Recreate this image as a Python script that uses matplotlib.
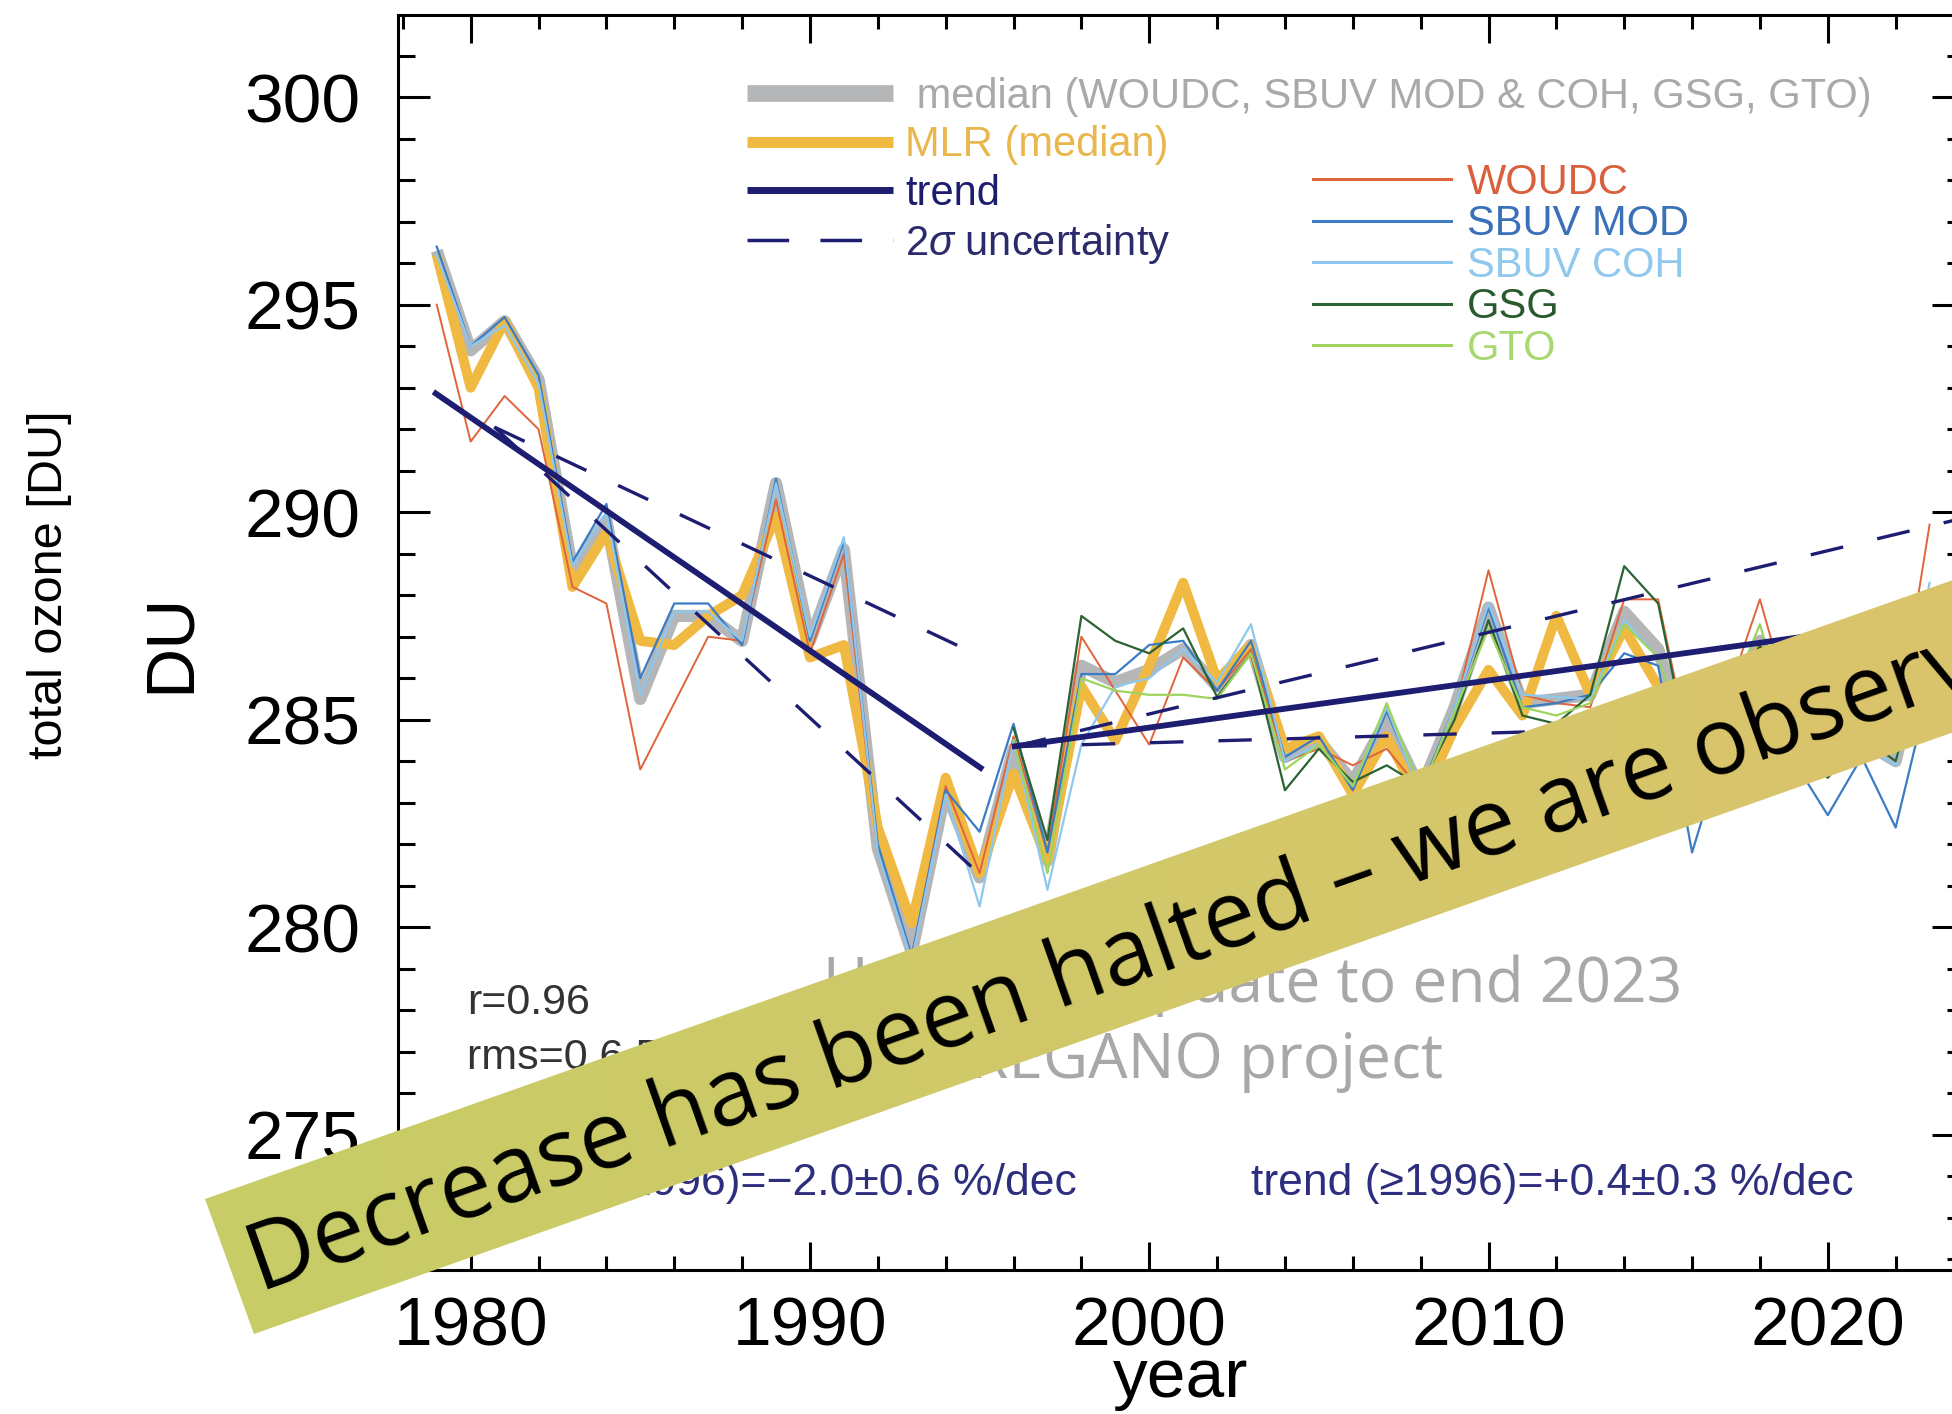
import numpy as np
import matplotlib
matplotlib.use("Agg")
import matplotlib.pyplot as plt
from matplotlib.lines import Line2D
from matplotlib.patches import Polygon
from matplotlib.ticker import MultipleLocator

# ---------------- data ----------------
years = np.arange(1979, 2024)
years_sat = np.arange(1996, 2024)

woudc = [295.0, 291.7, 292.8, 292.0, 288.2, 287.8, 283.8, 285.4, 287.0, 286.9,
         290.3, 286.6, 289.0, 281.8, 279.3, 283.4, 281.3, 284.6, 281.8, 287.0,
         285.7, 284.4, 286.5, 285.7, 286.7, 284.0, 284.3, 283.9, 284.3, 283.3,
         285.2, 288.6, 285.6, 285.4, 285.3, 287.9, 287.9, 284.0, 285.5, 287.9,
         285.0, 284.0, 284.8, 284.6, 289.7]
sbuv_mod = [296.4, 294.0, 294.7, 293.3, 288.8, 290.2, 286.0, 287.8, 287.8, 286.8,
            290.8, 286.9, 289.3, 282.0, 279.3, 283.3, 282.3, 284.9, 281.8, 286.1,
            286.1, 286.8, 286.9, 285.7, 286.9, 284.1, 284.6, 283.3, 285.2, 283.3,
            285.3, 287.7, 285.3, 285.4, 285.6, 286.6, 286.3, 281.8, 284.5, 286.0,
            284.0, 282.7, 284.1, 282.4, 285.8]
sbuv_coh = [296.2, 294.0, 294.5, 293.1, 288.7, 290.0, 285.6, 287.6, 287.6, 286.9,
            290.7, 287.0, 289.4, 281.8, 279.2, 283.2, 280.5, 284.5, 280.9, 284.4,
            285.8, 286.0, 286.7, 285.9, 287.3, 284.0, 284.4, 283.4, 285.3, 283.2,
            285.3, 287.8, 285.6, 285.55, 285.5, 287.4, 286.5, 284.3, 285.0, 286.5,
            284.5, 284.3, 284.4, 283.9, 288.3]
median = [296.3, 293.9, 294.6, 293.2, 288.6, 289.8, 285.5, 287.5, 287.5, 286.9,
          290.7, 286.9, 289.1, 281.9, 279.4, 283.3, 281.2, 284.3, 281.6, 286.3,
          285.9, 286.2, 286.7, 285.8, 286.8, 284.1, 284.5, 283.5, 285.0, 283.3,
          285.3, 287.7, 285.4, 285.5, 285.6, 287.6, 286.7, 284.0, 285.0, 286.9,
          284.6, 283.9, 284.5, 284.0, 287.5]
mlr = [296.2, 293.0, 294.6, 293.0, 288.2, 289.5, 286.9, 286.8, 287.5, 288.0,
       289.9, 286.5, 286.8, 282.4, 280.1, 283.6, 281.3, 283.7, 281.6, 285.8,
       284.5, 286.3, 288.3, 285.95, 286.8, 284.3, 284.6, 283.2, 284.6, 283.0,
       284.8, 286.2, 285.1, 287.5, 285.6, 287.2, 285.8, 284.5, 285.3, 286.7,
       285.0, 284.3, 285.0, 284.6, 286.0]
gsg = [284.8, 282.1, 287.5, 286.9, 286.6, 287.2, 285.55, 286.6, 283.3, 284.3,
       283.5, 283.9, 283.4, 285.0, 287.4, 285.1, 284.9, 285.6, 288.7, 287.8,
       283.8, 285.2, 286.8, 284.3, 283.6, 284.6, 284.0, 287.0]
gto = [284.5, 281.3, 286.0, 285.7, 285.6, 285.6, 285.5, 286.6, 283.8, 284.4,
       283.4, 285.4, 283.3, 285.2, 287.2, 285.3, 285.1, 285.4, 287.3, 286.5,
       284.2, 285.3, 287.3, 284.5, 284.0, 284.6, 284.2, 287.2]

trend1_years = [1978.9, 1995.1]
trend1_vals = [292.9, 283.8]
band1_years = [1980.7, 1995.1]
band1_upper = [292.05, 286.5]
band1_lower = [292.05, 281.2]

trend2_years = [1995.95, 2023.7]
trend2_vals = [284.35, 287.5]
band2_years = [1996.0, 2023.7]
band2_upper = [284.35, 289.8]
band2_lower = [284.35, 285.0]

xticks = [1980, 1990, 2000, 2010, 2020]
yticks = [275, 280, 285, 290, 295, 300]

# ---------------- style ----------------
plt.rcParams['font.family'] = ['Liberation Sans', 'DejaVu Sans']
plt.rcParams['mathtext.fontset'] = 'custom'
plt.rcParams['mathtext.rm'] = 'Liberation Sans'
plt.rcParams['mathtext.it'] = 'Liberation Sans:italic'

c_med = '#b4b6b8'
c_mlr = '#f0b942'
c_trend = '#1d1d72'
c_woudc = '#e0643c'
c_mod = '#3b7cc4'
c_coh = '#8ec8ee'
c_gsg = '#2a6432'
c_gto = '#9ed45e'

W, H = 1952, 1414
fig = plt.figure(figsize=(W / 100, H / 100), dpi=100)
ax = fig.add_axes([398.4 / W, 1 - 1270 / H, 1565.1 / W, 1255 / H])

ax.plot(years, median, color=c_med, lw=8.8, zorder=1, solid_capstyle='butt')
ax.plot(years, mlr, color=c_mlr, lw=7.2, zorder=2, solid_capstyle='butt')
ax.plot(years, woudc, color=c_woudc, lw=1.4, zorder=3)
ax.plot(years, sbuv_mod, color=c_mod, lw=1.6, zorder=3)
ax.plot(years, sbuv_coh, color=c_coh, lw=1.6, zorder=3)
ax.plot(years_sat, gsg, color=c_gsg, lw=1.6, zorder=3)
ax.plot(years_sat, gto, color=c_gto, lw=1.6, zorder=3)

ax.plot(trend1_years, trend1_vals, color=c_trend, lw=4.2, zorder=5, solid_capstyle='butt')
ax.plot(trend2_years, trend2_vals, color=c_trend, lw=4.2, zorder=5, solid_capstyle='butt')
for yy, vv in [(band1_years, band1_upper), (band1_years, band1_lower),
               (band2_years, band2_upper), (band2_years, band2_lower)]:
    ax.plot(yy, vv, color=c_trend, lw=2.4, dashes=(10, 10.5), zorder=5)

ax.set_xlim(1977.87, 2024.0)
ax.set_ylim(271.74, 301.98)
ax.set_xticks(xticks)
ax.set_yticks(yticks)
ax.xaxis.set_minor_locator(MultipleLocator(2))
ax.yaxis.set_minor_locator(MultipleLocator(1))
for s in ax.spines.values():
    s.set_linewidth(2.2)
ax.tick_params(which='both', direction='in', top=True, right=True, width=2.2)
ax.tick_params(axis='x', which='major', length=20, pad=18, labelsize=50)
ax.tick_params(axis='x', which='minor', length=10)
ax.tick_params(axis='y', which='major', length=23, pad=27, labelsize=50)
ax.tick_params(axis='y', which='minor', length=12)

ax.set_xlabel('year', fontsize=50)
ax.xaxis.label.set_va('baseline')
ax.xaxis.set_label_coords(0.5, -(1397 - 1270) / 1255)
ax.set_ylabel('DU', fontsize=50)
ax.yaxis.label.set_va('center')
ax.yaxis.set_label_coords((170.6 - 398.4) / 1565.1, 0.5)
fig.text(50 / W, 1 - 585 / H, 'total ozone [DU]', rotation=90, ha='center',
         va='center', fontsize=35)

# statistics text
ax.text(0.0438, 0.2127, 'r=0.96', transform=ax.transAxes, fontsize=31,
        color='#333333', va='center', ha='left')
ax.text(0.0438, 0.1689, 'rms=0.6 DU', transform=ax.transAxes, fontsize=31,
        color='#333333', va='center', ha='left')
ax.text(0.4337, 0.0693, 'trend (\u22641996)=\u22122.0\u00b10.6 %/dec',
        transform=ax.transAxes, fontsize=32, color='#2e2e7e', va='center', ha='right')
ax.text(0.5447, 0.0693, 'trend (\u22651996)=+0.4\u00b10.3 %/dec',
        transform=ax.transAxes, fontsize=32, color='#2e2e7e', va='center', ha='left')

# legends
h1 = [Line2D([], [], color=c_med, lw=12, solid_capstyle='butt'),
      Line2D([], [], color=c_mlr, lw=8, solid_capstyle='butt'),
      Line2D([], [], color=c_trend, lw=5, solid_capstyle='butt'),
      Line2D([], [], color=c_trend, lw=2.5, dashes=(12, 9))]
l1 = [' median (WOUDC, SBUV MOD & COH, GSG, GTO)', 'MLR (median)', 'trend',
      r'2$\it{\sigma}$ uncertainty']
col1 = ['#a9a9a9', '#e9b74c', '#1d1d6e', '#2b2b6b']
leg1 = fig.legend(h1, l1, loc='upper left', bbox_to_anchor=(747 / W, 1 - 77 / H),
                  frameon=False, fontsize=30, handlelength=3.5, handletextpad=0.3,
                  labelspacing=0.2, borderpad=0, borderaxespad=0)
for t, c in zip(leg1.get_texts(), col1):
    t.set_color(c)

h2 = [Line2D([], [], color=c, lw=2.2) for c in [c_woudc, c_mod, c_coh, c_gsg, c_gto]]
l2 = ['WOUDC', 'SBUV MOD', 'SBUV COH', 'GSG', 'GTO']
col2 = ['#d8603c', '#3a70b8', '#90c8ee', '#2a5a30', '#a8d870']
leg2 = fig.legend(h2, l2, loc='upper left', bbox_to_anchor=(1313 / W, 1 - 163 / H),
                  frameon=False, fontsize=30, handlelength=3.3, handletextpad=0.4,
                  labelspacing=0.035, borderpad=0, borderaxespad=0)
for t, c in zip(leg2.get_texts(), col2):
    t.set_color(c)

# ---------------- overlay (pixel coordinates, y down) ----------------
ov = fig.add_axes([0, 0, 1, 1], zorder=10)
ov.axis('off')
ov.patch.set_alpha(0)

ov.text(823, 1002, 'Unofficial update to end 2023', ha='left', va='baseline',
        fontsize=44.8, color='#a8a8a8', family=['Open Sans', 'DejaVu Sans'], zorder=0.5)
ov.text(836, 1078, 'by OREGANO project', ha='left', va='baseline',
        fontsize=44.8, color='#a8a8a8', family=['Open Sans', 'DejaVu Sans'], zorder=0.5)

ang = np.deg2rad(19.5)
u = np.array([np.cos(ang), -np.sin(ang)])
n = np.array([np.sin(ang), np.cos(ang)])
TL = np.array([205.0, 1199.0])
BL = np.array([254.0, 1334.0])
L = 2100
poly = Polygon([TL, TL + L * u, BL + L * u, BL], closed=True,
               transform=ov.transData, facecolor='none', edgecolor='none')
ov.add_patch(poly)
g = np.linspace(0, 1, 256)
c0 = np.array([199, 205, 102]) / 255
c1 = np.array([219, 196, 108]) / 255
img = c0[None, None, :] * (1 - g[None, :, None]) + c1[None, None, :] * g[None, :, None]
im = ov.imshow(img, extent=[200, 1960, 1340, 520], aspect='auto',
               interpolation='bilinear', zorder=1)
im.set_clip_path(poly)

P = (TL + BL) / 2 + 20 * u + 34 * n
ov.text(P[0], P[1], 'Decrease has been halted \u2013 we are observing recovery',
        rotation=19.5, rotation_mode='anchor', ha='left', va='baseline',
        fontsize=67, color='black', family=['Open Sans', 'DejaVu Sans'], zorder=3)

ov.set_xlim(0, W)
ov.set_ylim(H, 0)

fig.savefig('out.png', dpi=100)
